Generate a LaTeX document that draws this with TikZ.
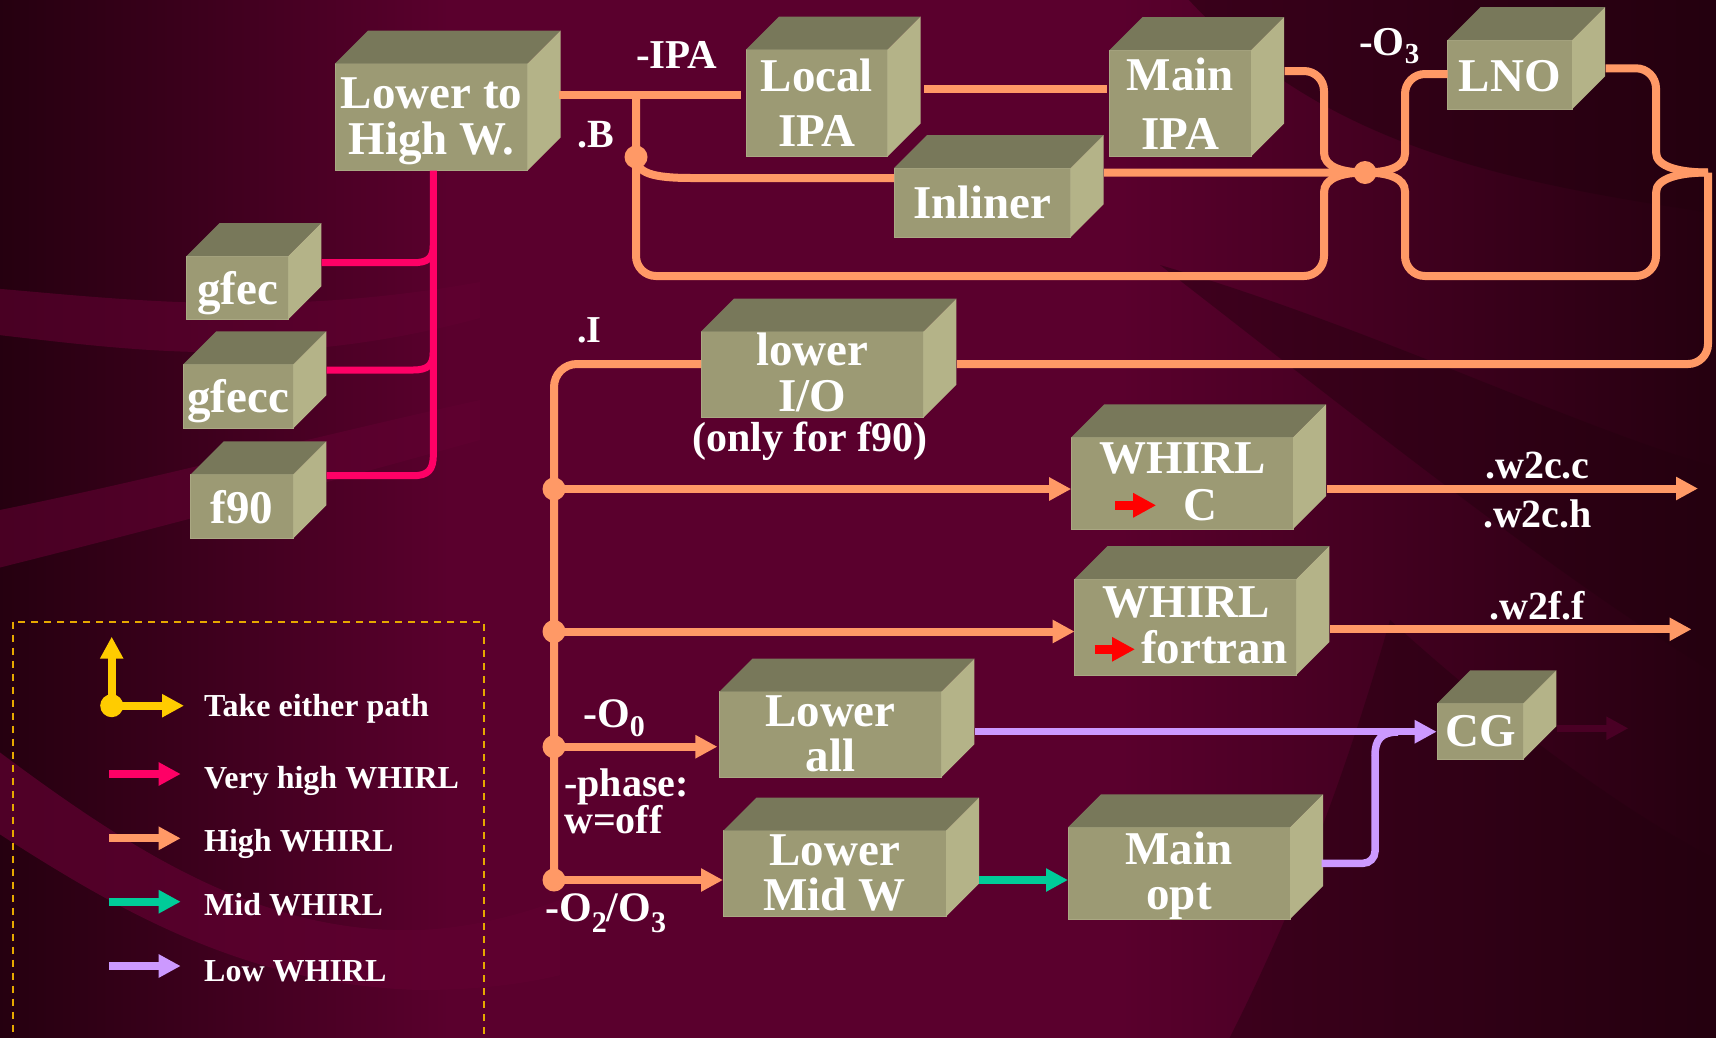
\documentclass[tikz,border=0pt]{standalone}
\usepackage{fontspec}
\setmainfont{Liberation Serif}
\usetikzlibrary{arrows.meta,calc}

\definecolor{bgbase}{HTML}{5A002D}
\definecolor{bgdark}{HTML}{24000F}
\definecolor{bgband}{HTML}{610031}
\definecolor{hiw}{HTML}{FF9966}
\definecolor{vhiw}{HTML}{FF0066}
\definecolor{midw}{HTML}{00CC99}
\definecolor{loww}{HTML}{CC99FF}
\definecolor{either}{HTML}{FFCC00}
\definecolor{legframe}{HTML}{E6A800}
\definecolor{facefront}{HTML}{9C9A74}
\definecolor{facetop}{HTML}{78785A}
\definecolor{faceside}{HTML}{B4B388}
\definecolor{faceedge}{HTML}{AAA883}
\definecolor{ghost}{HTML}{4A0025}

% subscript: drop (pt), size (pt), text
\newcommand\subidx[3]{\raisebox{-#1pt}{\fontsize{#2}{#2}\selectfont #3}}

% a 3-D box: name, then left, top, right, bottom of its front face
\newcommand\cube[5]{%
  \node[frontface, minimum width={#4-#2}, minimum height={#5-#3}] (#1) at ({(#2+#4)/2},{(#3+#5)/2}) {};
  \fill[facetop] (#1.north west) -- ++(33,-33) -- ($(#1.north east)+(33,-33)$) -- (#1.north east) -- cycle;
  \fill[faceside] (#1.north east) -- ++(33,-33) -- ($(#1.south east)+(33,-33)$) -- (#1.south east) -- cycle;
}

\tikzset{
  frontface/.style={rectangle, fill=facefront, draw=faceedge, line width=1pt, inner sep=0pt, outer sep=0pt},
  boxtext/.style={text=white, font=\fontsize{47}{47}\selectfont\bfseries, inner sep=0pt, anchor=base},
  tag/.style={text=white, inner sep=0pt, anchor=base west},
  tagc/.style={text=white, inner sep=0pt, anchor=base},
  hw/.style={draw=hiw, line width=8pt},
  vhw/.style={draw=vhiw, line width=7pt},
  mw/.style={draw=midw, line width=7.5pt},
  lw/.style={draw=loww, line width=7.5pt},
  headed/.style={-{Triangle[length=22pt,width=22pt]}},
  fork/.style={circle, fill=hiw, inner sep=0pt, minimum size=23pt},
  legtext/.style={text=white, inner sep=0pt, anchor=base west, font=\fontsize{32}{32}\selectfont\bfseries},
}

\begin{document}
\begin{tikzpicture}[x=1pt, y=-1pt]
\useasboundingbox (0,0) rectangle (1716,1037);
\clip (-10,-10) rectangle (1726,1047);

% ---------- background ----------
\fill[bgbase] (-10,-10) rectangle (1726,1047);
\shade[left color=bgdark, right color=bgbase] (-10,-10) rectangle (450,1047);
\shade[left color=bgbase, right color=bgdark] (1120,-10) rectangle (1726,1047);
\fill[bgband, opacity=0.6] (-10,288) .. controls (130,300) and (280,318) .. (480,282) -- (480,318) .. controls (280,372) and (130,350) .. (-10,334) -- cycle;
\fill[bgband, opacity=0.6] (-10,512) .. controls (150,480) and (300,440) .. (480,400) -- (480,440) .. controls (300,490) and (150,530) .. (-10,570) -- cycle;
\fill[bgband, opacity=0.7] (-10,745) .. controls (130,850) and (260,935) .. (420,930) .. controls (470,928) and (520,915) .. (560,900) -- (560,975) .. controls (520,985) and (470,990) .. (420,990) .. controls (240,985) and (110,905) .. (-10,828) -- cycle;
\fill[bgdark, opacity=0.55] (1180,-10) -- (1726,-10) -- (1726,215) .. controls (1520,185) and (1320,150) .. (1180,-10) -- cycle;
\fill[bgdark, opacity=0.45] (1160,265) .. controls (1380,330) and (1580,430) .. (1726,470) -- (1726,680) .. controls (1560,580) and (1360,420) .. (1160,265) -- cycle;
\fill[bgdark, opacity=0.45] (1390,620) .. controls (1500,720) and (1620,810) .. (1726,865) -- (1726,1047) -- (1225,1047) .. controls (1300,900) and (1350,760) .. (1390,620) -- cycle;

% ---------- boxes ----------
\cube{lhw}{335}{63.5}{527.5}{170.7}
\cube{gfec}{186.7}{256}{288.3}{319.3}
\cube{gfecc}{183.3}{364.3}{293.3}{428.3}
\cube{f90}{190.7}{474.3}{293.3}{538.3}
\cube{lipa}{746}{49.5}{887.5}{156.7}
\cube{mipa}{1109.6}{50}{1251}{156.7}
\cube{inl}{894}{168}{1070.5}{237.3}
\cube{lno}{1447.5}{40}{1572}{109.3}
\cube{lio}{701}{331.7}{923.3}{417.7}
\cube{wc}{1071.2}{437.3}{1293}{529}
\cube{wf}{1074.6}{579}{1296.4}{675}
\cube{lall}{719.4}{691.7}{941.4}{777.3}
\cube{lmid}{723.3}{830.7}{946}{916.7}
\cube{mopt}{1068}{827.3}{1290}{919}
\cube{cg}{1437.3}{703.3}{1523.3}{759.3}

% ---------- junction points ----------
\coordinate (ipaj) at (636,95);
\coordinate (lmerge) at (1708,172.5);
\coordinate (wcout) at (1698,488.5);
\coordinate (wfout) at (1691.5,629.3);
\coordinate (cgjoin) at (1398,732);
\coordinate (cgout) at (1628.3,728.3);
\node[fork] (bdot) at (636,157) {};
\node[fork] (odot) at (1365,172.5) {};
\node[fork] (t1) at (554,489) {};
\node[fork] (t2) at (554,631.5) {};
\node[fork] (t3) at (554,746.7) {};
\node[fork] (t4) at (554,880) {};

% ---------- very high WHIRL ----------
\draw[vhw] ($(lhw.south)+(2,0)$) -- (433.3,455) .. controls (433.3,470) and (428,475.7) .. (413,475.7) -- ($(f90.north east)+(33.4,1.4)$);
\draw[vhw] ($(gfec.north east)+(33.4,6.7)$) -- (413,262.7) .. controls (428,262.7) and (433.3,258) .. (433.3,245);
\draw[vhw] ($(gfecc.north east)+(33.4,5.7)$) -- (413,370) .. controls (428,370) and (433.3,365) .. (433.3,352);

% ---------- high WHIRL ----------
\draw[hw] ($(lhw.north east)+(31,31.5)$) -- ($(lipa.north west)+(-5,45.5)$);
\draw[hw, rounded corners=20pt] (ipaj) -- (636,276) -- (1324,276) -- (1324,192);
\draw[hw] (1324,192.5) .. controls (1324,178) and (1342,172.5) .. (odot.center);
\draw[hw] (bdot.center) .. controls (636,173) and (652,178) .. (692,178) -- ($(inl.north west)+(0,10)$);
\draw[hw] ($(inl.north east)+(33.5,4.7)$) -- (odot.center);
\draw[hw] ($(lipa.north east)+(36.5,39.8)$) -- ($(mipa.north west)+(-2.6,39.3)$);
\draw[hw, rounded corners=20pt] ($(mipa.north east)+(33.5,21)$) -- (1324,71) -- (1324,153);
\draw[hw] (1324,152.5) .. controls (1324,167) and (1342,172.5) .. (odot.center);
\draw[hw] (odot.center) .. controls (1388,172.5) and (1405,167) .. (1405,153.5);
\draw[hw, rounded corners=20pt] (1405,154) -- (1405,74) -- ($(lno.north west)+(0,34)$);
\draw[hw] (odot.center) .. controls (1388,172.5) and (1405,178) .. (1405,191.5);
\draw[hw, rounded corners=20pt] (1405,191) -- (1405,276) -- (1656,276) -- (1656,192);
\draw[hw] (1656,192.5) .. controls (1656,178) and (1680,172.5) .. (lmerge);
\draw[hw, rounded corners=20pt] ($(lno.north east)+(33.5,28.3)$) -- (1656,68.3) -- (1656,153);
\draw[hw] (1656,152.5) .. controls (1656,167) and (1680,172.5) .. (lmerge);
\draw[hw, rounded corners=20pt] (lmerge) -- (1708,364) -- ($(lio.north east)+(33.5,32.3)$);
\draw[hw, rounded corners=23pt] ($(lio.north west)+(0,32.3)$) -- (554,364) -- (t4.center);
\draw[hw, headed] (t1.center) -- ($(wc.north west)+(0,51.7)$);
\draw[hw, headed] (t2.center) -- ($(wf.north west)+(0,52.5)$);
\draw[hw, headed] (t3.center) -- ($(lall.north west)+(-2,55)$);
\draw[hw, headed] (t4.center) -- ($(lmid.north west)+(-0.3,49.3)$);
\draw[hw, headed] ($(wc.north east)+(34,51.2)$) -- (wcout);
\draw[hw, headed] ($(wf.north east)+(34,50.3)$) -- (wfout);

% ---------- mid and low WHIRL ----------
\draw[mw, headed] ($(lmid.north east)+(33,49.3)$) -- ($(mopt.north west)+(0,52.7)$);
\draw[lw, headed] ($(lall.north east)+(33.3,40)$) -- ($(cg.north west)+(-0.6,28.4)$);
\draw[lw, rounded corners=12pt] ($(mopt.north east)+(31.7,36)$) -- (1375,863.3) -- (1375,755);
\draw[lw] (1375,755.5) .. controls (1375,740) and (1381,732) .. (cgjoin);
\draw[draw=ghost, line width=7pt, headed] ($(cg.north east)+(33.4,25)$) -- (cgout);

% ---------- box labels ----------
\node[boxtext] (lhw-a) at (431.5,108.3) {Lower to};
\node[boxtext] (lhw-b) at (431.5,154) {High W.};
\node[boxtext] (gfec-a) at (237.5,304) {gfec};
\node[boxtext] (gfecc-a) at (238.3,412.7) {gfecc};
\node[boxtext] (f90-a) at (242,523.3) {f90};
\node[boxtext] (lipa-a) at (816.8,91) {Local};
\node[boxtext] (lipa-b) at (816.8,146.4) {IPA};
\node[boxtext] (mipa-a) at (1180.3,90.7) {Main};
\node[boxtext] (mipa-b) at (1180.3,149.3) {IPA};
\node[boxtext] (inl-a) at (982.3,218.6) {Inliner};
\node[boxtext] (lno-a) at (1509.8,91.7) {LNO};
\node[boxtext] (lio-a) at (812.2,365) {lower};
\node[boxtext] (lio-b) at (812.2,411.7) {I/O};
\node[boxtext] (wc-a) at (1182.7,473.3) {WHIRL};
\node[boxtext] (wc-b) at (1200.4,520) {C};
\node[boxtext] (wf-a) at (1186,617.3) {WHIRL};
\node[boxtext, anchor=base west] (wf-b) at (1141,663.3) {fortran};
\node[boxtext] (lall-a) at (830.4,726) {Lower};
\node[boxtext] (lall-b) at (830.4,771.7) {all};
\node[boxtext] (lmid-a) at (834.7,865) {Lower};
\node[boxtext] (lmid-b) at (834.7,910.7) {Mid W};
\node[boxtext] (mopt-a) at (1179,864) {Main};
\node[boxtext] (mopt-b) at (1179,909) {opt};
\node[boxtext] (cg-a) at (1480.3,746) {CG};

% red arrows inside the back-end boxes
\draw[draw=red, line width=9pt, -{Triangle[length=23pt,width=23pt]}] (1115,505.3) -- (1156.2,505.3);
\draw[draw=red, line width=9pt, -{Triangle[length=23pt,width=23pt]}] (1094.6,649.3) -- (1135,649.3);

% ---------- flags and file names ----------
\node[tag, font=\fontsize{41}{41}\selectfont\bfseries] (f-ipa) at (636,68.3) {-IPA};
\node[tag, font=\fontsize{40}{40}\selectfont\bfseries] (f-b) at (577,147.3) {.B};
\node[tag, font=\fontsize{38}{38}\selectfont\bfseries] (f-i) at (577,342.7) {.I};
\node[tag, font=\fontsize{41}{41}\selectfont\bfseries] (f-o3) at (1359,55) {-O\subidx{8.5}{29}{3}};
\node[tagc, font=\fontsize{42}{42}\selectfont\bfseries] (f-only) at (810,451.7) {(only for f90)};
\node[tag, font=\fontsize{42}{42}\selectfont\bfseries] (f-o0) at (583,727.3) {-O\subidx{9.5}{30}{0}};
\node[tag, font=\fontsize{40}{40}\selectfont\bfseries] (f-ph) at (564,796.7) {-phase:};
\node[tag, font=\fontsize{40}{40}\selectfont\bfseries] (f-wo) at (564,833.3) {w=off};
\node[tag, font=\fontsize{42}{42}\selectfont\bfseries] (f-o23) at (545,921.7) {-O\subidx{11}{30}{2}/O\subidx{11}{30}{3}};
\node[tagc, font=\fontsize{40}{40}\selectfont\bfseries] (f-w2cc) at (1537.5,478.3) {.w2c.c};
\node[tagc, font=\fontsize{40}{40}\selectfont\bfseries] (f-w2ch) at (1537.5,527.3) {.w2c.h};
\node[tagc, font=\fontsize{40}{40}\selectfont\bfseries] (f-w2f) at (1537.5,619.3) {.w2f.f};

% ---------- legend ----------
\draw[legframe, line width=2pt, dash pattern=on 7pt off 6pt] (13,621.7) rectangle (484.3,1060);
\node[circle, fill=either, inner sep=0pt, minimum size=23pt] (ydot) at (111.7,705.7) {};
\coordinate (yup) at (111.7,636.7);
\coordinate (yright) at (184,705.7);
\draw[draw=either, line width=8pt, headed] (ydot.center) -- (yup);
\draw[draw=either, line width=8pt, headed] (ydot.center) -- (yright);
\coordinate (k1a) at (109.3,774);   \coordinate (k1b) at (180.7,774);
\coordinate (k2a) at (109.3,838.3); \coordinate (k2b) at (180.7,838.3);
\coordinate (k3a) at (109.3,901.7); \coordinate (k3b) at (180.7,901.7);
\coordinate (k4a) at (109.3,966);   \coordinate (k4b) at (180.7,966);
\draw[vhw, line width=8pt, headed] (k1a) -- (k1b);
\draw[hw, headed] (k2a) -- (k2b);
\draw[mw, line width=8pt, headed] (k3a) -- (k3b);
\draw[lw, line width=8pt, headed] (k4a) -- (k4b);
\node[legtext] (l0) at (204,716.7) {Take either path};
\node[legtext] (l1) at (204,788.3) {Very high WHIRL};
\node[legtext] (l2) at (204,851.7) {High WHIRL};
\node[legtext] (l3) at (204,915) {Mid WHIRL};
\node[legtext] (l4) at (204,981.7) {Low WHIRL};
\end{tikzpicture}
\end{document}
